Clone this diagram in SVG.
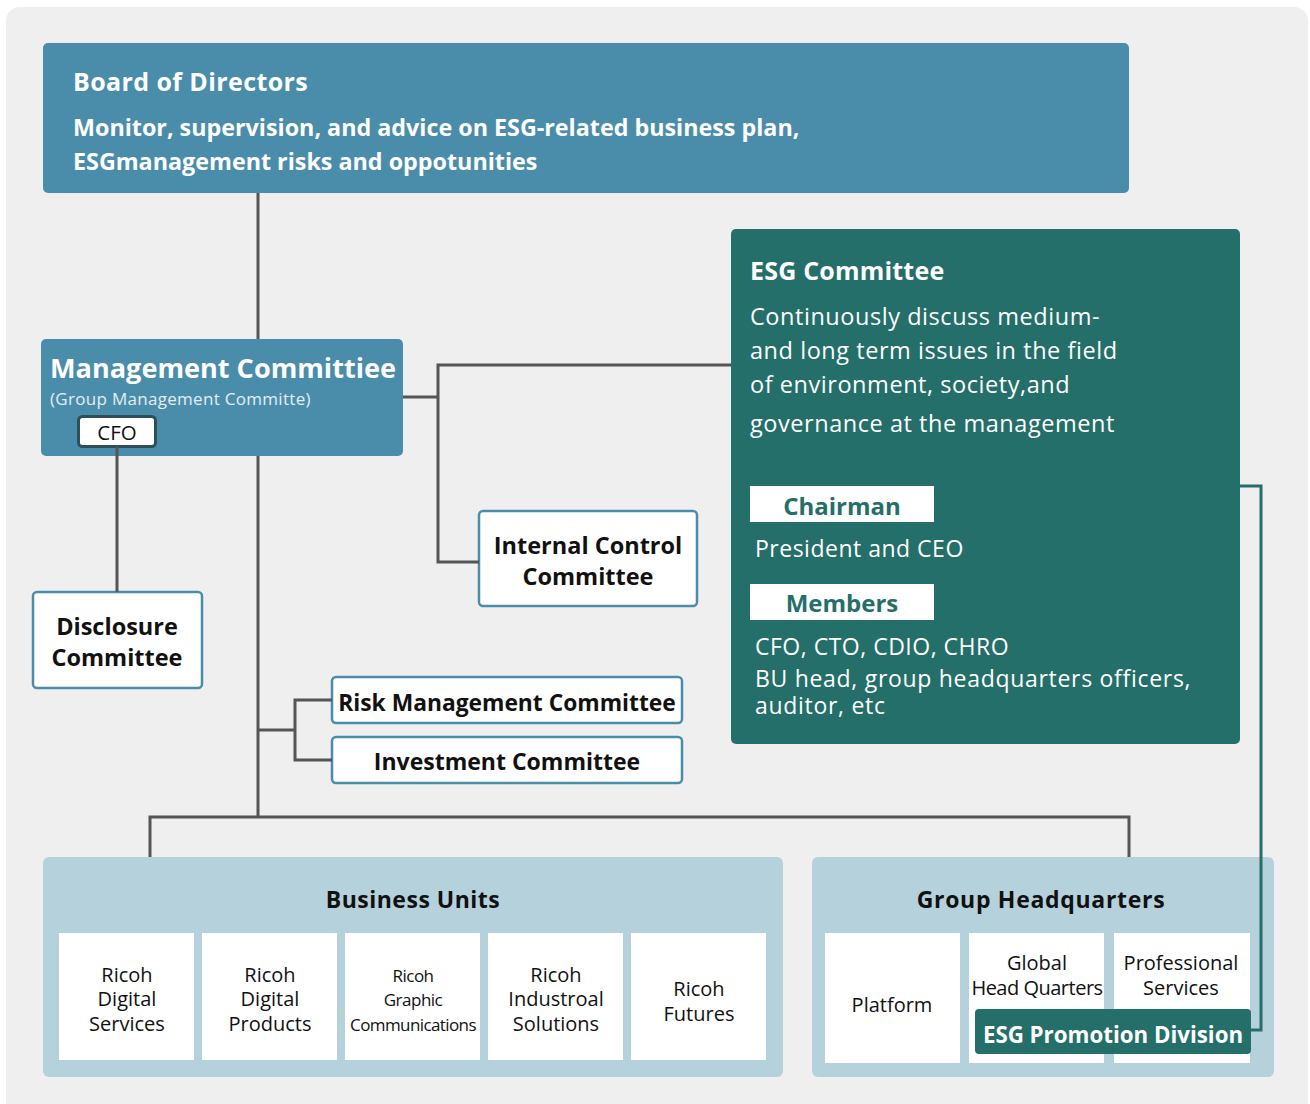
<svg xmlns="http://www.w3.org/2000/svg" width="1310" height="1104" viewBox="0 0 1310 1104">
<style>
text{font-family:"Open Sans","Noto Sans","DejaVu Sans",sans-serif;}
.b{font-weight:bold;}
.w{fill:#ffffff;}
.k{fill:#111111;}
.c{text-anchor:middle;}
.line{fill:none;stroke:#555555;stroke-width:3;}
.teal{fill:none;stroke:#246f69;stroke-width:3;}
.box{fill:#ffffff;stroke:#4a8dab;stroke-width:2.5;}
.unit{fill:#ffffff;}
.body{font-size:23.5px;letter-spacing:0.55px;}
</style>
<rect x="6" y="7" width="1302" height="1110" rx="14" fill="#efefef"/>
<g id="board">
<rect x="43" y="43" width="1086" height="150" rx="5" fill="#4a8dab"/>
<text x="73" y="91" class="b w" font-size="25" letter-spacing="0.4">Board of Directors</text>
<text x="73" y="136" class="b w" font-size="23.3">Monitor, supervision, and advice on ESG-related business plan,</text>
<text x="73" y="170" class="b w" font-size="23.3">ESGmanagement risks and oppotunities</text>
</g>
<g id="management">
<rect x="41" y="339" width="362" height="117" rx="5" fill="#4a8dab"/>
<text x="50" y="378" class="b w" font-size="27.1">Management Committiee</text>
<text x="50" y="405" font-size="17" fill="#e2eef3" letter-spacing="0.3">(Group Management Committe)</text>
</g>
<g id="cfo">
<rect x="78.5" y="416.5" width="77" height="30" rx="4" fill="#ffffff" stroke="#2e4e5a" stroke-width="3"/>
<text x="117" y="440" class="k c" font-size="20.5">CFO</text>
</g>
<g id="disclosure">
<rect x="33" y="592" width="169" height="96" rx="4" class="box"/>
<text x="117" y="635" class="b k c" font-size="23.5">Disclosure</text>
<text x="117" y="666" class="b k c" font-size="23.5">Committee</text>
</g>
<g id="internal-control">
<rect x="479" y="511" width="218" height="95" rx="4" class="box"/>
<text x="588" y="554" class="b k c" font-size="23.5">Internal Control</text>
<text x="588" y="585" class="b k c" font-size="23.5">Committee</text>
</g>
<g id="risk">
<rect x="332" y="677" width="350" height="46" rx="4" class="box"/>
<text x="507" y="711" class="b k c" font-size="22.8">Risk Management Committee</text>
</g>
<g id="investment">
<rect x="332" y="737" width="350" height="46" rx="4" class="box"/>
<text x="507" y="770" class="b k c" font-size="23">Investment Committee</text>
</g>
<g id="esg-committee">
<rect x="731" y="229" width="509" height="515" rx="5" fill="#246f69"/>
<text x="750" y="280" class="b w" font-size="25" letter-spacing="0.2">ESG Committee</text>
<text x="750" y="325" class="w body">Continuously discuss medium-</text>
<text x="750" y="359" class="w body">and long term issues in the field</text>
<text x="750" y="393" class="w body">of environment, society,and</text>
<text x="750" y="432" class="w body">governance at the management</text>
<rect x="750" y="486" width="184" height="36" fill="#ffffff"/>
<text x="842" y="515" class="b c" font-size="24" fill="#246f69">Chairman</text>
<text x="755" y="557" class="w" font-size="23" letter-spacing="0.5">President and CEO</text>
<rect x="750" y="584" width="184" height="36" fill="#ffffff"/>
<text x="842" y="612" class="b c" font-size="24" fill="#246f69">Members</text>
<text x="755" y="655" class="w" font-size="23" letter-spacing="0.5">CFO, CTO, CDIO, CHRO</text>
<text x="755" y="687" class="w" font-size="23" letter-spacing="0.7">BU head, group headquarters officers,</text>
<text x="755" y="714" class="w" font-size="23" letter-spacing="0.7">auditor, etc</text>
</g>
<g id="business-units">
<rect x="43" y="857" width="740" height="220" rx="6" fill="#b5d1dc"/>
<text x="413" y="908" class="b k c" font-size="23" letter-spacing="0.5">Business Units</text>
<rect x="59" y="933" width="135" height="127" class="unit"/>
<text x="127" y="982" class="k c" font-size="20">Ricoh</text>
<text x="127" y="1006" class="k c" font-size="20">Digital</text>
<text x="127" y="1031" class="k c" font-size="20">Services</text>
<rect x="202" y="933" width="135" height="127" class="unit"/>
<text x="270" y="982" class="k c" font-size="20">Ricoh</text>
<text x="270" y="1006" class="k c" font-size="20">Digital</text>
<text x="270" y="1031" class="k c" font-size="20">Products</text>
<rect x="345" y="933" width="135" height="127" class="unit"/>
<text x="413" y="982" class="k c" font-size="17" letter-spacing="-0.5">Ricoh</text>
<text x="413" y="1006" class="k c" font-size="17" letter-spacing="-0.5">Graphic</text>
<text x="413" y="1031" class="k c" font-size="17" letter-spacing="-0.6">Communications</text>
<rect x="488" y="933" width="135" height="127" class="unit"/>
<text x="556" y="982" class="k c" font-size="20">Ricoh</text>
<text x="556" y="1006" class="k c" font-size="20">Industroal</text>
<text x="556" y="1031" class="k c" font-size="20">Solutions</text>
<rect x="631" y="933" width="135" height="127" class="unit"/>
<text x="699" y="996" class="k c" font-size="20">Ricoh</text>
<text x="699" y="1021" class="k c" font-size="20">Futures</text>
</g>
<g id="group-headquarters">
<rect x="812" y="857" width="462" height="220" rx="6" fill="#b5d1dc"/>
<text x="1041" y="908" class="b k c" font-size="23" letter-spacing="0.7">Group Headquarters</text>
<rect x="825" y="933" width="135" height="130" class="unit"/>
<text x="892" y="1012" class="k c" font-size="20">Platform</text>
<rect x="969" y="933" width="135" height="130" class="unit"/>
<text x="1037" y="970" class="k c" font-size="20">Global</text>
<text x="1037" y="995" class="k c" font-size="20" letter-spacing="-0.5">Head Quarters</text>
<rect x="1114" y="933" width="136" height="130" class="unit"/>
<text x="1181" y="970" class="k c" font-size="20">Professional</text>
<text x="1181" y="995" class="k c" font-size="20">Services</text>
</g>
<g id="esg-promotion">
<rect x="975" y="1009" width="276" height="45" rx="4" fill="#246f69"/>
<text x="1113" y="1043" class="b w c" font-size="22.3">ESG Promotion Division</text>
</g>
<g id="connectors">
<path class="line" d="M258 193V339M258 456V817M150 857V817H1129V857"/>
<path class="line" d="M117 447V592"/>
<path class="line" d="M403 397H438M731 365H438V562H479"/>
<path class="line" d="M258 730H295M332 700H295V760H332"/>
<path class="teal" d="M1240 486H1261V1030H1251"/>
</g>
</svg>
